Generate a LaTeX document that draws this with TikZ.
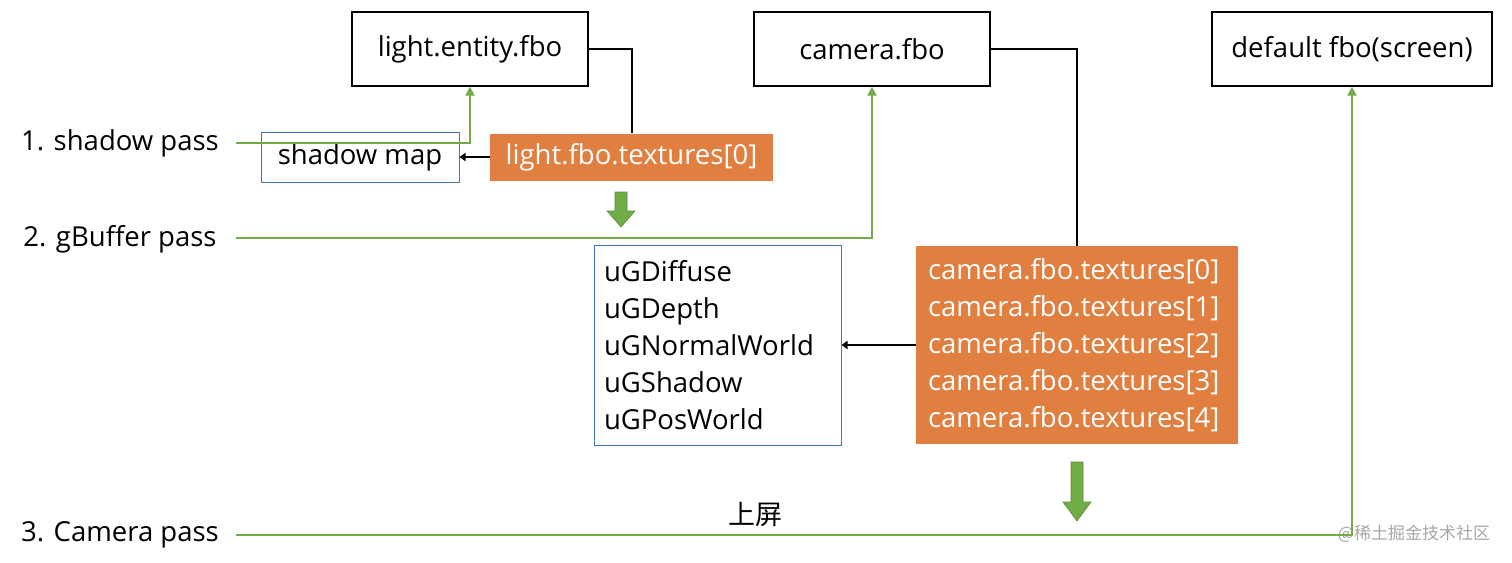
\documentclass[tikz,border=0pt]{standalone}
\usepackage{fontspec}
\setmainfont{Open Sans}
\newfontfamily\cjkfont{Noto Sans CJK SC}
\usetikzlibrary{arrows.meta}
\definecolor{pgreen}{HTML}{70AD47}
\definecolor{porange}{HTML}{E07F40}
\definecolor{pblue}{HTML}{4472C4}
\tikzset{
  fbo/.style={draw=black, line width=1.3pt, minimum height=74pt, inner sep=0pt, font=\fontsize{27.5}{32}\selectfont},
  tex/.style={fill=porange, text=white, inner sep=0pt, align=left, font=\fontsize{27.5}{37}\selectfont},
  uni/.style={draw=pblue, line width=1pt, inner sep=0pt, align=left, font=\fontsize{27.5}{37}\selectfont},
  pass/.style={inner sep=0pt, font=\fontsize{27.5}{32}\selectfont},
  gline/.style={draw=pgreen, line width=2pt},
  garrow/.style={gline, -{Triangle[width=9pt,length=9pt]}},
  bline/.style={draw=black, line width=2pt},
  barrow/.style={bline, -{Triangle[width=8pt,length=6pt]}},
  blockarrow/.style={fill=pgreen, draw=pgreen!80!black, line width=0.6pt}
}
\begin{document}
\begin{tikzpicture}[x=1pt,y=-1pt]
\useasboundingbox (0,0) rectangle (1512,562);
% top fbo boxes
\node[fbo, minimum width=236pt] (lfbo) at (470,49) {light.entity.fbo};
\node[fbo, minimum width=236pt] (cfbo) at (872,49) {camera.fbo};
\node[fbo, minimum width=280pt] (dfbo) at (1352,49) {default fbo(screen)};
% pass labels
\node[pass] (p1) at (120,143) {1. shadow pass};
\node[pass] (p2) at (120,239) {2. gBuffer pass};
\node[pass] (p3) at (120,535) {3. Camera pass};
% shadow map + light texture
\node[uni, minimum width=198pt, minimum height=50pt, align=center] (smap) at (360,157) {shadow map};
\node[tex, minimum width=283pt, minimum height=47pt, align=center] (ltex) at (631.5,157) {light.fbo.textures[0]};
% gbuffer uniforms
\node[uni, minimum width=247pt, minimum height=200pt, text width=227pt] (ug) at (717.5,345)
  {uGDiffuse\\uGDepth\\uGNormalWorld\\uGShadow\\uGPosWorld};
\node[tex, minimum width=322pt, minimum height=198pt, text width=298pt] (ctex) at (1077,345)
  {camera.fbo.textures[0]\\camera.fbo.textures[1]\\camera.fbo.textures[2]\\camera.fbo.textures[3]\\camera.fbo.textures[4]};
% label
\node[inner sep=0pt, font=\cjkfont\fontsize{27}{32}\selectfont] (shang) at (755,514) {上屏};
\node[inner sep=0pt, text=black!35, font=\cjkfont\fontsize{17}{20}\selectfont] (wm) at (1414,534) {@稀土掘金技术社区};
% coordinates
\coordinate (g1s) at (236,143);
\coordinate (g2s) at (236,238);
\coordinate (g3s) at (236,535);
% black connectors
\draw[bline] (lfbo.east) -| (ltex.north);
\draw[bline] (cfbo.east) -| (ctex.north);
\draw[barrow] (ltex.west) -- (smap.east);
\draw[barrow] (ctex.west) -- (ug.east);
% green pass lines
\draw[garrow] (g1s) -| (lfbo.south);
\draw[garrow] (g2s) -| (cfbo.south);
\draw[garrow] (g3s) -| (dfbo.south);
% block arrows
\path[blockarrow] (615,192) -- (627,192) -- (627,211) -- (635,211) -- (621,227) -- (607,211) -- (615,211) -- cycle;
\path[blockarrow] (1071,462) -- (1083,462) -- (1083,502) -- (1091,502) -- (1077,521) -- (1063,502) -- (1071,502) -- cycle;
\end{tikzpicture}
\end{document}
